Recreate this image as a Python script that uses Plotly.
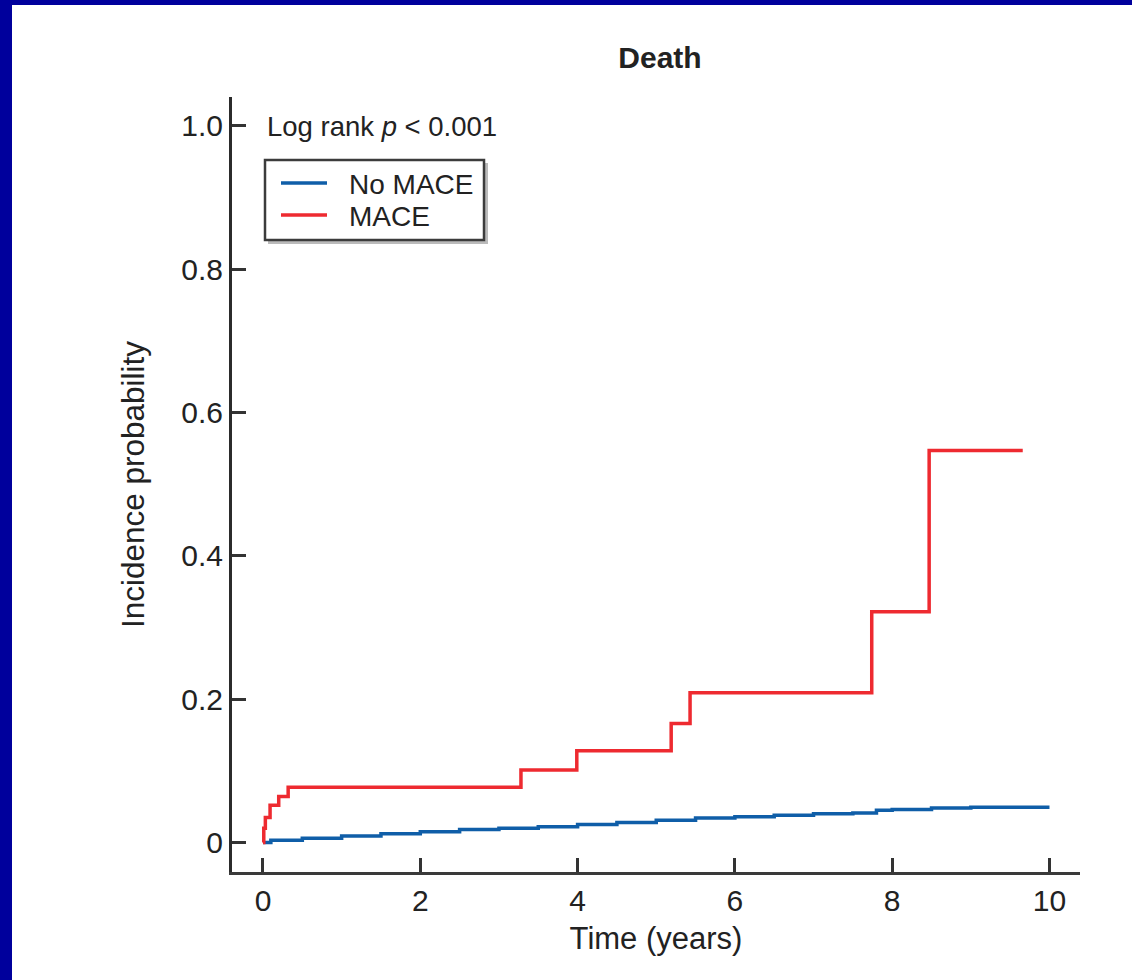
import plotly.graph_objects as go

# ---- data ----
no_mace_t = [0, 0.1, 0.5, 1.0, 1.5, 2.0, 2.5, 3.0, 3.5, 4.0, 4.5, 5.0, 5.5, 6.0, 6.5, 7.0, 7.5, 7.8, 8.0, 8.5, 9.0, 10.0]
no_mace_y = [0, 0.003, 0.006, 0.009, 0.012, 0.015, 0.018, 0.020, 0.022, 0.025, 0.028, 0.031, 0.034, 0.036, 0.038, 0.040, 0.041, 0.045, 0.046, 0.048, 0.049, 0.049]

mace_t = [0, 0.01, 0.03, 0.09, 0.2, 0.32, 3.28, 3.99, 5.19, 5.43, 7.74, 8.47, 9.66]
mace_y = [0, 0.02, 0.035, 0.052, 0.064, 0.077, 0.101, 0.128, 0.166, 0.209, 0.322, 0.547, 0.547]

series_names = ["No MACE", "MACE"]
x_ticks = [0, 2, 4, 6, 8, 10]
y_ticks = [0, 0.2, 0.4, 0.6, 0.8, 1.0]
y_tick_labels = ["0", "0.2", "0.4", "0.6", "0.8", "1.0"]

W, H = 1132, 980
ML, MR, MT, MB = 232, 52, 97, 108
PW, PH = W - ML - MR, H - MT - MB


def px(x):
    return (x - ML) / PW


def py(y):
    return (H - MB - y) / PH


BLUE = "#0F5EA8"
RED = "#EE2A30"
NAVY = "#00009C"
TXT = "#222222"
FONT = "Liberation Sans, Arial, sans-serif"

fig = go.Figure()
fig.add_trace(go.Scatter(x=no_mace_t, y=no_mace_y, mode="lines", line_shape="hv",
                         line=dict(color=BLUE, width=3.5), name=series_names[0]))
fig.add_trace(go.Scatter(x=mace_t, y=mace_y, mode="lines", line_shape="hv",
                         line=dict(color=RED, width=3.5), name=series_names[1]))

shapes = [
    # navy frame strips (left and top)
    dict(type="rect", xref="paper", yref="paper", x0=px(0), x1=px(12), y0=py(H), y1=py(0),
         fillcolor=NAVY, line=dict(width=0), layer="above"),
    dict(type="rect", xref="paper", yref="paper", x0=px(0), x1=px(W), y0=py(5), y1=py(0),
         fillcolor=NAVY, line=dict(width=0), layer="above"),
    # legend shadow + box
    dict(type="rect", xref="paper", yref="paper", x0=px(268), x1=px(488), y0=py(244), y1=py(163),
         fillcolor="#BBBBBB", line=dict(width=0), layer="above"),
    dict(type="rect", xref="paper", yref="paper", x0=px(265), x1=px(484), y0=py(240), y1=py(160),
         fillcolor="white", line=dict(width=2.5, color="#3c3c3c"), layer="above"),
    # legend samples
    dict(type="line", xref="paper", yref="paper", x0=px(281), x1=px(327), y0=py(183), y1=py(183),
         line=dict(width=3.5, color=BLUE), layer="above"),
    dict(type="line", xref="paper", yref="paper", x0=px(281), x1=px(327), y0=py(215), y1=py(215),
         line=dict(width=3.5, color=RED), layer="above"),
]

annotations = [
    dict(text="Log rank <i>p</i> < 0.001", xref="paper", yref="paper",
         x=px(265), y=py(127), xanchor="left", yanchor="middle", showarrow=False,
         font=dict(size=27.5, family=FONT, color=TXT)),
    dict(text=series_names[0], xref="paper", yref="paper", x=px(347), y=py(184),
         xanchor="left", yanchor="middle", showarrow=False, font=dict(size=28, family=FONT, color=TXT)),
    dict(text=series_names[1], xref="paper", yref="paper", x=px(347), y=py(216),
         xanchor="left", yanchor="middle", showarrow=False, font=dict(size=28, family=FONT, color=TXT)),
]

fig.update_layout(
    width=W, height=H,
    margin=dict(l=ML, r=MR, t=MT, b=MB, pad=0),
    paper_bgcolor="white", plot_bgcolor="white",
    font=dict(family=FONT, color=TXT, size=28),
    title=dict(text="<b>Death</b>", xref="container", x=660 / W, xanchor="center",
               y=1 - 57 / H, yanchor="middle",
               font=dict(size=30, family=FONT, color=TXT)),
    xaxis=dict(range=[-0.394, 10.388], tickvals=x_ticks, ticks="inside", ticklen=14, tickwidth=3,
               tickcolor="#333333", showline=True, linecolor="#3a3a3a", linewidth=3,
               showgrid=False, zeroline=False, tickfont=dict(size=30),
               title=dict(text="Time (years)", font=dict(size=31), standoff=12)),
    yaxis=dict(range=[-0.0412, 1.040], tickvals=y_ticks, ticktext=y_tick_labels, ticks="inside",
               ticklen=14, tickwidth=3, tickcolor="#333333", showline=True, linecolor="#2b2b2b",
               linewidth=3, showgrid=False, zeroline=False, tickfont=dict(size=30),
               title=dict(text="Incidence probability", font=dict(size=31.5), standoff=28)),
    showlegend=False,
    shapes=shapes,
    annotations=annotations,
)

fig.write_html("out.html")
